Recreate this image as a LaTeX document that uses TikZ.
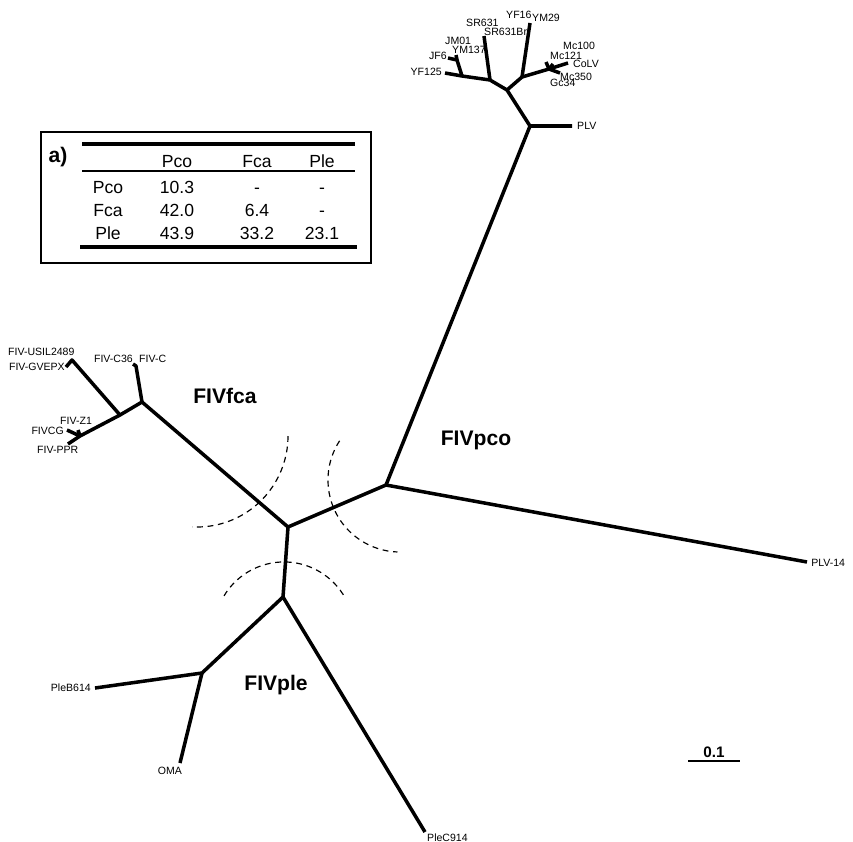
\documentclass[tikz,border=0pt]{standalone}
\usepackage{fontspec}
\setmainfont{Liberation Sans}
\begin{document}
\begin{tikzpicture} [x = 0.03cm, y = -0.03cm,
	branch/.style = {line width = 3pt, line join = round},
	leaf/.style = {font = \fontsize{9}{10}\selectfont, inner sep = 0pt},
	clade/.style = {font = \fontsize{18}{20}\selectfont\bfseries, inner sep = 0pt},
	ring/.style = {line width = 1pt, dash pattern = on 5pt off 4pt},
	cell/.style = {font = \fontsize{15}{17}\selectfont, inner sep = 0pt, text height = 10.8pt, text depth = 0pt}]
	\useasboundingbox (0,0) rectangle (853,841);
	\coordinate (c) at (288,527);
	\coordinate (pco) at (386,485);
	\coordinate (ple) at (283,597);
	\coordinate (fca) at (142,402);
	\draw [branch] (fca) -- (c) -- (pco);
	\draw [branch] (c) -- (ple);
	\coordinate (plvj) at (530,126);
	\coordinate (plv) at (572,126);
	\coordinate (plv14) at (807,562);
	\coordinate (t1) at (507,90);
	\coordinate (t2) at (490,80);
	\coordinate (t3) at (462,76);
	\coordinate (t4) at (457,60);
	\coordinate (yf125) at (445,73);
	\coordinate (jf6) at (448,58);
	\coordinate (ym137) at (456,55);
	\coordinate (sr631) at (484,36);
	\coordinate (t5) at (522,77);
	\coordinate (yf16) at (530,23);
	\coordinate (t6) at (549,69);
	\coordinate (mc121) at (546,62);
	\coordinate (mc100) at (553,64);
	\coordinate (colv) at (568,63);
	\coordinate (mc350) at (560,73);
	\draw [branch] (pco) -- (plvj) -- (plv);
	\draw [branch] (pco) -- (plv14);
	\draw [branch] (plvj) -- (t1) -- (t2) -- (t3) -- (yf125);
	\draw [branch] (t3) -- (t4) -- (jf6);
	\draw [branch] (t4) -- (ym137);
	\draw [branch] (t2) -- (sr631);
	\draw [branch] (t1) -- (t5) -- (yf16);
	\draw [branch] (t5) -- (t6) -- (colv);
	\draw [branch] (t6) -- (mc121);
	\draw [branch] (t6) -- (mc100);
	\draw [branch] (t6) -- (mc350);
	\node [leaf, anchor = west] (lplv) at (577,126) {PLV};
	\node [leaf, anchor = west] (lplv14) at (811,563) {PLV-14};
	\node [leaf, anchor = east] (lyf125) at (442,72) {YF125};
	\node [leaf, anchor = east] (ljf6) at (447,56) {JF6};
	\node [leaf, anchor = west] (ljm01) at (445,41) {JM01};
	\node [leaf, anchor = west] (lym137) at (452,50) {YM137};
	\node [leaf, anchor = west] (lsr631) at (466,23) {SR631};
	\node [leaf, anchor = west] (lsr631br) at (484,32) {SR631Br};
	\node [leaf, anchor = west] (lyf16) at (506,15) {YF16};
	\node [leaf, anchor = west] (lym29) at (532,18) {YM29};
	\node [leaf, anchor = west] (lmc100) at (563,46) {Mc100};
	\node [leaf, anchor = west] (lmc121) at (550,56) {Mc121};
	\node [leaf, anchor = west] (lcolv) at (573,64) {CoLV};
	\node [leaf, anchor = west] (lmc350) at (560,77) {Mc350};
	\node [leaf, anchor = west] (lgc34) at (550,83) {Gc34};
	\coordinate (fc) at (136,366);
	\coordinate (fcs) at (133,364);
	\coordinate (f2) at (120,415);
	\coordinate (gv) at (72,360);
	\coordinate (gvs) at (66,367);
	\coordinate (f3) at (80,436);
	\coordinate (z1) at (78,430);
	\coordinate (cg) at (67,430);
	\coordinate (ppr) at (68,444);
	\draw [branch] (fca) -- (fc) -- (fcs);
	\draw [branch] (fca) -- (f2) -- (gv) -- (gvs);
	\draw [branch] (f2) -- (f3) -- (ppr);
	\draw [branch] (f3) -- (z1);
	\draw [branch] (f3) -- (cg);
	\node [leaf, anchor = west] (lusil) at (8,352) {FIV-USIL2489};
	\node [leaf, anchor = east] (lgvepx) at (65,367) {FIV-GVEPX};
	\node [leaf, anchor = east] (lc36) at (133,359) {FIV-C36};
	\node [leaf, anchor = west] (lfivc) at (139,359) {FIV-C};
	\node [leaf, anchor = west] (lz1) at (60,421) {FIV-Z1};
	\node [leaf, anchor = east] (lcg) at (64,431) {FIVCG};
	\node [leaf, anchor = west] (lppr) at (37,450) {FIV-PPR};
	\coordinate (pb) at (202,673);
	\coordinate (pleb) at (95,688);
	\coordinate (oma) at (180,763);
	\coordinate (plec) at (425,832);
	\draw [branch] (ple) -- (pb) -- (pleb);
	\draw [branch] (pb) -- (oma);
	\draw [branch] (ple) -- (plec);
	\node [leaf, anchor = east] (lpleb) at (91,688) {PleB614};
	\node [leaf, anchor = north] (loma) at (170,767) {OMA};
	\node [leaf, anchor = west] (lplec) at (427,838) {PleC914};
	\node [clade] (nfca) at (225,396) {FIVfca};
	\node [clade] (npco) at (476,440) {FIVpco};
	\node [clade] (nple) at (276,685) {FIVple};
	\draw [ring] (288,436) arc (0:93:91);
	\draw [ring] (339.6,440.8) arc (213:92:72);
	\draw [ring] (224,595.9) arc (211:331:70);
	\coordinate (sa) at (688,761);
	\coordinate (sb) at (740,761);
	\draw [line width = 2.5pt] (sa) -- (sb);
	\node [font = \fontsize{13}{15}\selectfont\bfseries, inner sep = 0pt] (scale) at (714,752) {0.1};
	\draw [line width = 1.5pt] (41,132) rectangle (371,263);
	\draw [line width = 3pt] (82,144) -- (355,144);
	\draw [line width = 1pt] (82,171) -- (355,171);
	\draw [line width = 3pt] (80,247) -- (357,247);
	\node [font = \fontsize{18}{20}\selectfont\bfseries, inner sep = 0pt] (tag) at (58,157) {a)};
	\node [cell] (hpco) at (177,161) {Pco};
	\node [cell] (hfca) at (257,161) {Fca};
	\node [cell] (hple) at (322,161) {Ple};
	\node [cell] (rpco) at (108,187) {Pco};
	\node [cell] (rfca) at (108,210) {Fca};
	\node [cell] (rple) at (108,233) {Ple};
	\node [cell] at (177,187) {10.3};
	\node [cell] at (257,187) {-};
	\node [cell] at (322,187) {-};
	\node [cell] at (177,210) {42.0};
	\node [cell] at (257,210) {6.4};
	\node [cell] at (322,210) {-};
	\node [cell] at (177,233) {43.9};
	\node [cell] at (257,233) {33.2};
	\node [cell] at (322,233) {23.1};
\end{tikzpicture}
\end{document}
